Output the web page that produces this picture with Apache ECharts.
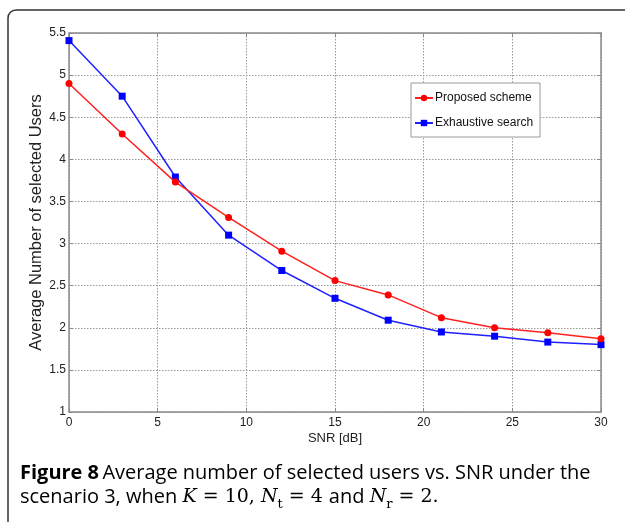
<!DOCTYPE html>
<html><head><meta charset="utf-8">
<script src="https://cdn.jsdelivr.net/npm/echarts@6/dist/echarts.min.js"></script>
<style>html,body{margin:0;padding:0;background:#fff}#c{width:625px;height:522px}</style>
</head><body><div id="c"></div>
<script>
const snr = [0, 3, 6, 9, 12, 15, 18, 21, 24, 27, 30];
const proposed = [4.90, 4.30, 3.73, 3.31, 2.91, 2.56, 2.39, 2.12, 2.00, 1.94, 1.87];
const exhaustive = [5.41, 4.75, 3.79, 3.10, 2.68, 2.35, 2.09, 1.95, 1.90, 1.83, 1.80];
const seriesNames = ['Proposed scheme', 'Exhaustive search'];
const xName = 'SNR [dB]';
const yName = 'Average Number of selected Users';

const chart = echarts.init(document.getElementById('c'), null, {renderer: 'canvas'});
const sans = "'Liberation Sans', Arial, sans-serif";
const tickFont = {fontFamily: sans, fontSize: 12, color: '#222'};
const axisCommon = {
  axisLine: {show: true, onZero: false, lineStyle: {color: '#8a8a8a', width: 1.5}},
  axisTick: {show: true, inside: true, length: 4, lineStyle: {color: '#8a8a8a'}},
  splitLine: {show: true, lineStyle: {color: '#9a9a9a', type: [1.5, 1.5], width: 1}}
};
const option = {
  animation: false,
  backgroundColor: '#fff',
  grid: {left: 69, right: 24, top: 33, bottom: 110, show: false},
  legend: {
    orient: 'vertical', left: 411, top: 83,
    backgroundColor: '#fff', borderColor: '#9a9a9a', borderWidth: 1,
    padding: [9, 7, 8, 3], itemGap: 13, itemWidth: 18, itemHeight: 8,
    textStyle: {fontFamily: sans, fontSize: 12, color: '#111', padding: [0, 0, 0, -3]},
    data: seriesNames
  },
  xAxis: [
    Object.assign({type: 'value', min: 0, max: 30, interval: 5, position: 'bottom',
      name: xName, nameLocation: 'middle', nameGap: 20, nameMoveOverlap: false,
      nameTextStyle: {fontFamily: sans, fontSize: 13, color: '#222'},
      axisLabel: Object.assign({margin: 5}, tickFont)}, axisCommon),
    Object.assign({type: 'value', min: 0, max: 30, interval: 5, position: 'top',
      axisLabel: {show: false}}, axisCommon, {splitLine: {show: false}})
  ],
  yAxis: [
    Object.assign({type: 'value', min: 1, max: 5.5, interval: 0.5, position: 'left',
      name: yName, nameLocation: 'middle', nameGap: 24, nameMoveOverlap: false,
      nameTextStyle: {fontFamily: sans, fontSize: 16.5, color: '#222'},
      axisLabel: Object.assign({margin: 3}, tickFont)}, axisCommon),
    Object.assign({type: 'value', min: 1, max: 5.5, interval: 0.5, position: 'right',
      axisLabel: {show: false}}, axisCommon, {splitLine: {show: false}})
  ],
  series: [
    {name: seriesNames[0], type: 'line', data: snr.map((x, i) => [x, proposed[i]]),
      symbol: 'circle', symbolSize: 7, showSymbol: true,
      lineStyle: {color: '#ff2020', width: 1.5}, itemStyle: {color: '#ff0000'}, z: 3},
    {name: seriesNames[1], type: 'line', data: snr.map((x, i) => [x, exhaustive[i]]),
      symbol: 'rect', symbolSize: 7, showSymbol: true,
      lineStyle: {color: '#2020ff', width: 1.5}, itemStyle: {color: '#0000ff'}, z: 2}
  ],
  graphic: [
    {type: 'rect', shape: {x: 8, y: 10, width: 720, height: 620, r: 8},
      style: {fill: 'none', stroke: '#333', lineWidth: 1.5}, silent: true},
    {type: 'text', left: 20, top: 463,
      style: {
        text: '{b|Figure 8} {n|Average number of selected users vs. SNR under the}',
        rich: {
          b: {fontFamily: 'Open Sans', fontWeight: 'bold', fontSize: 20, color: '#111'},
          n: {fontFamily: 'Open Sans', fontSize: 20, color: '#111'}
        }
      }},
    {type: 'text', left: 20, top: 487,
      style: {
        text: '{n|scenario 3, when }{m|K}{s| = 10, }{m|N}{sub|t}{s| = 4 }{n|and }{m|N}{sub|r}{s| = 2.}',
        rich: {
          n: {fontFamily: 'Open Sans', fontSize: 20, color: '#111', lineHeight: 28},
          m: {fontFamily: 'DejaVu Serif', fontStyle: 'italic', fontSize: 19, color: '#111', lineHeight: 28},
          s: {fontFamily: 'DejaVu Serif', fontSize: 19, color: '#111', lineHeight: 28},
          sub: {fontFamily: 'DejaVu Serif', fontSize: 13, color: '#111', lineHeight: 24, verticalAlign: 'bottom'}
        }
      }}
  ]
};
chart.setOption(option);
</script></body></html>
